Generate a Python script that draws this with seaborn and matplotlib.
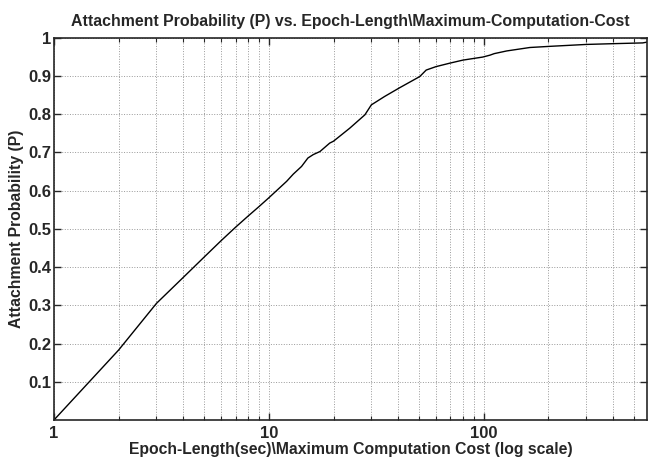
import numpy as np
import pandas as pd
import matplotlib
matplotlib.use("Agg")
import matplotlib.pyplot as plt
import seaborn as sns
from matplotlib.ticker import FixedLocator, LogLocator, NullFormatter

# values
epoch_len = [1, 2, 3, 4, 5, 6, 7, 8, 9, 10, 12.1, 13, 14.2, 15.2, 16.1, 17.3,
             19.2, 20, 23.8, 28, 30, 34.6, 40.7, 50.4, 54, 60, 69.5, 80, 99,
             107, 112, 128, 164, 203, 300, 400, 550, 575]
attach_prob = [0.0, 0.183, 0.305, 0.373, 0.426, 0.469, 0.504, 0.533, 0.558,
               0.581, 0.624, 0.643, 0.663, 0.685, 0.694, 0.702, 0.724, 0.729,
               0.763, 0.798, 0.824, 0.846, 0.869, 0.898, 0.915, 0.924, 0.933,
               0.941, 0.949, 0.954, 0.958, 0.965, 0.974, 0.977, 0.982, 0.984,
               0.986, 0.988]

y_ticks = [0.1, 0.2, 0.3, 0.4, 0.5, 0.6, 0.7, 0.8, 0.9, 1.0]
y_labels = ["0.1", "0.2", "0.3", "0.4", "0.5", "0.6", "0.7", "0.8", "0.9", "1"]

df = pd.DataFrame({"epoch": epoch_len, "prob": attach_prob})

sns.set_style("ticks")
plt.rcParams["font.family"] = ["Liberation Sans", "DejaVu Sans"]
plt.rcParams["font.weight"] = "bold"

fig = plt.figure(figsize=(6.48, 4.58), dpi=100)
ax = fig.add_axes([0.0833, 0.083, 0.915, 0.835])

sns.lineplot(data=df, x="epoch", y="prob", color="black", linewidth=1.0, ax=ax)

ax.set_xscale("log")
ax.set_xlim(1, 575)
ax.set_ylim(0, 1)

ax.xaxis.set_major_locator(FixedLocator([1, 10, 100]))
ax.set_xticklabels(["1", "10", "100"])
ax.xaxis.set_minor_locator(LogLocator(base=10, subs=np.arange(2, 10)))
ax.xaxis.set_minor_formatter(NullFormatter())
ax.set_yticks(y_ticks)
ax.set_yticklabels(y_labels)

ax.grid(True, which="both", axis="x", linestyle=":", color="#999999", linewidth=0.7)
ax.grid(True, which="major", axis="y", linestyle=":", color="#999999", linewidth=0.7)

ax.tick_params(which="both", direction="in", top=True, right=True, labelsize=12)
ax.tick_params(which="major", length=5, width=1)
ax.tick_params(which="minor", length=3, width=0.8)
ax.tick_params(axis="y", which="major", pad=2)
ax.tick_params(axis="x", which="major", pad=4)
for s in ax.spines.values():
    s.set_linewidth(1.2)
    s.set_visible(True)

ax.set_title("Attachment Probability (P) vs. Epoch-Length\\Maximum-Computation-Cost",
             fontsize=11.4, fontweight="bold", pad=8)
ax.set_xlabel("Epoch-Length(sec)\\Maximum Computation Cost (log scale)",
              fontsize=11.3, fontweight="bold", labelpad=1)
ax.set_ylabel("Attachment Probability (P)", fontsize=11.3, fontweight="bold", labelpad=3)

fig.savefig("out.png", dpi=100)
